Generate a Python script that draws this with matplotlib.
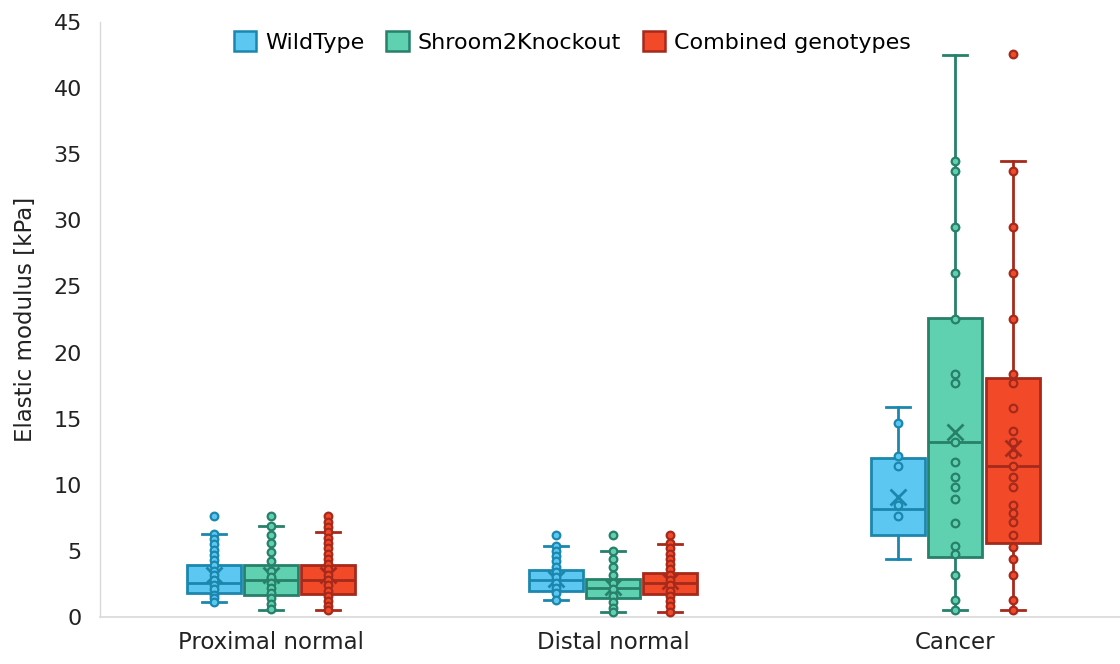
import matplotlib
matplotlib.use("Agg")
import matplotlib.pyplot as plt
from matplotlib.patches import Patch

plt.rcParams['font.family'] = ['DejaVu Sans']

categories = ["Proximal normal", "Distal normal", "Cancer"]
series = ["WildType", "Shroom2Knockout", "Combined genotypes"]
face_colors = ["#5CC8F2", "#5FD1B1", "#F24A28"]
edge_colors = ["#1B87AE", "#27806A", "#A52A1C"]

# box statistics per series, one entry per category: [low whisker, q1, median, q3, high whisker, mean]
wt_stats = [[1.1, 1.8, 2.6, 3.9, 6.3, 3.2],
            [1.3, 2.0, 2.8, 3.55, 5.4, 2.9],
            [4.4, 6.2, 8.2, 12.0, 15.9, 9.1]]
sk_stats = [[0.5, 1.7, 2.8, 3.9, 6.9, 3.2],
            [0.4, 1.45, 2.2, 2.9, 5.0, 2.3],
            [0.5, 4.55, 13.2, 22.6, 42.5, 14.0]]
cg_stats = [[0.5, 1.75, 2.8, 3.9, 6.4, 3.2],
            [0.4, 1.75, 2.55, 3.3, 5.5, 2.7],
            [0.5, 5.6, 11.4, 18.1, 34.5, 12.8]]

# individual measurements shown as dots
wt_points = [[7.6, 6.3, 5.9, 5.5, 5.1, 4.7, 4.3, 3.9, 3.5, 3.2, 2.8, 2.4, 2.1, 1.7, 1.4, 1.1],
             [6.2, 5.4, 5.0, 4.6, 4.2, 3.8, 3.4, 3.0, 2.6, 2.2, 1.8, 1.3],
             [14.7, 12.2, 11.4, 8.5, 7.6]]
sk_points = [[7.6, 6.9, 6.2, 5.6, 4.9, 4.2, 3.5, 3.0, 2.6, 2.2, 1.8, 1.4, 1.0, 0.6],
             [6.2, 5.0, 4.4, 3.8, 3.2, 2.6, 2.1, 1.6, 1.1, 0.7, 0.4],
             [34.5, 33.7, 29.5, 26.0, 22.5, 18.4, 17.7, 13.2, 11.7, 10.6, 9.8, 8.9,
              7.1, 5.4, 4.8, 3.2, 1.3, 0.5]]
cg_points = [[7.6, 7.2, 6.8, 6.4, 6.0, 5.6, 5.2, 4.8, 4.4, 4.0, 3.6, 3.2, 2.8, 2.4,
              2.0, 1.6, 1.2, 0.8, 0.5],
             [6.2, 5.6, 5.2, 4.8, 4.4, 4.0, 3.6, 3.2, 2.8, 2.4, 2.0, 1.6, 1.2, 0.8, 0.4],
             [42.6, 33.7, 29.5, 26.0, 22.5, 18.4, 17.7, 15.8, 14.1, 13.2, 12.3, 11.4,
              10.6, 9.8, 8.5, 7.9, 7.2, 6.2, 5.3, 4.4, 3.2, 1.3, 0.5]]

y_ticks = [0, 5, 10, 15, 20, 25, 30, 35, 40, 45]

all_stats = [wt_stats, sk_stats, cg_stats]
all_points = [wt_points, sk_points, cg_points]
offsets = [-0.167, 0.0, 0.167]
box_w = 0.158

fig = plt.figure(figsize=(11.2, 6.64), dpi=100)
ax = fig.add_axes([0.0893, 0.0708, 0.9165, 0.8961])

for s in range(3):
    fc, ec = face_colors[s], edge_colors[s]
    bstats = []
    pos = []
    for c in range(3):
        lo, q1, med, q3, hi, mean = all_stats[s][c]
        bstats.append(dict(whislo=lo, q1=q1, med=med, q3=q3, whishi=hi, mean=mean, fliers=[]))
        pos.append(c + offsets[s])
    ax.bxp(bstats, positions=pos, widths=box_w, patch_artist=True, showmeans=True,
           showfliers=False, capwidths=0.07,
           boxprops=dict(facecolor=fc, edgecolor=ec, linewidth=2),
           medianprops=dict(color=ec, linewidth=2),
           whiskerprops=dict(color=ec, linewidth=2),
           capprops=dict(color=ec, linewidth=2),
           meanprops=dict(marker='x', markeredgecolor=ec, markersize=11, markeredgewidth=2),
           zorder=2)
    for c in range(3):
        pts = all_points[s][c]
        ax.plot([c + offsets[s]] * len(pts), pts, linestyle='none', marker='o',
                markersize=5.5, markerfacecolor=fc, markeredgecolor=ec,
                markeredgewidth=1.6, zorder=3)

ax.set_xlim(-0.5, 2.5)
ax.set_ylim(0, 45)
ax.set_yticks(y_ticks)
ax.set_xticks(range(3))
ax.set_xticklabels(categories, fontsize=16.5, color='#222222')
ax.tick_params(axis='y', labelsize=16, length=0, pad=13, labelcolor='#222222')
ax.tick_params(axis='x', length=0, pad=10)
ax.set_ylabel("Elastic modulus [kPa]", fontsize=16.5, color='#222222', labelpad=12)

for side in ['top', 'right']:
    ax.spines[side].set_visible(False)
ax.spines['left'].set_color('#d9d9d9')
ax.spines['bottom'].set_color('#d9d9d9')
ax.spines['left'].set_linewidth(1)
ax.spines['bottom'].set_linewidth(1.2)

handles = [Patch(facecolor=face_colors[i], edgecolor=edge_colors[i], linewidth=1.8)
           for i in range(3)]
fig.legend(handles, series, loc='center', bbox_to_anchor=(0.511, 0.937), ncol=3,
           frameon=False, fontsize=16, handlelength=1.0, handleheight=1.0,
           handletextpad=0.4, columnspacing=1.0)

fig.savefig("out.png", dpi=100)
